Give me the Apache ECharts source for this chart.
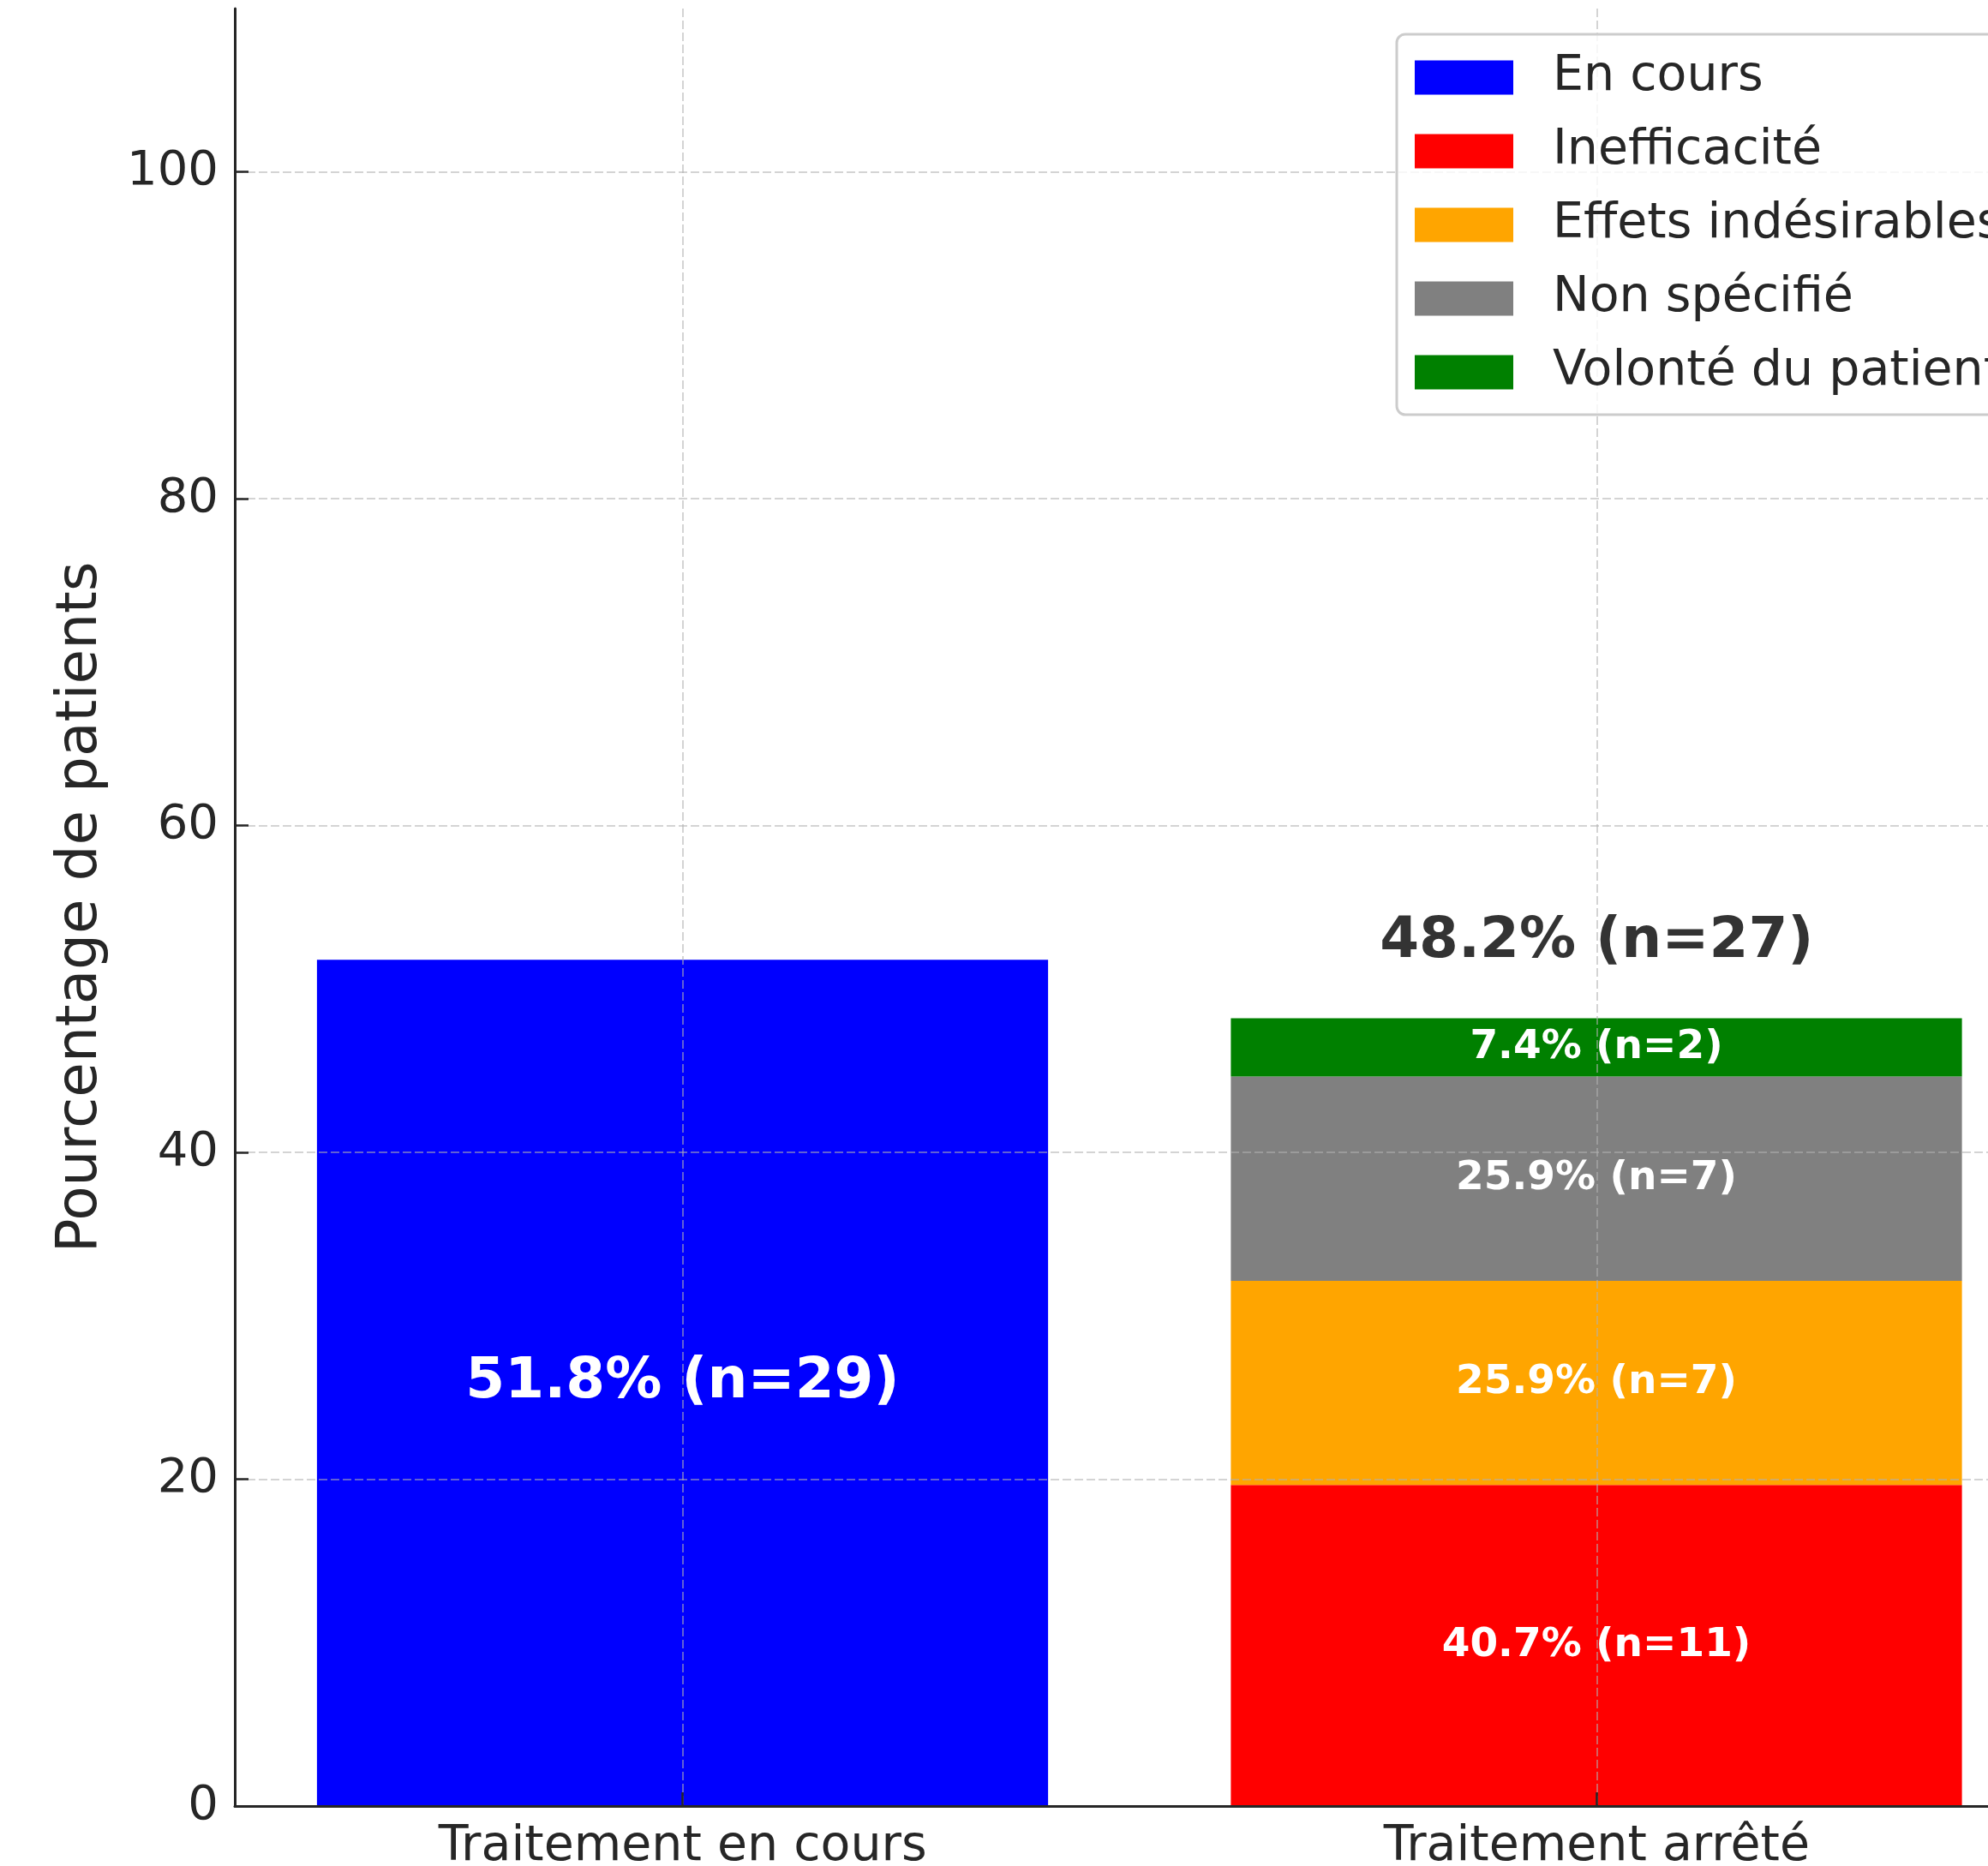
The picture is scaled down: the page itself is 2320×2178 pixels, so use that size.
<!DOCTYPE html>
<html>
<head>
<meta charset="utf-8">
<script src="https://cdn.jsdelivr.net/npm/echarts@6/dist/echarts.min.js"></script>
<style>
  html, body { margin: 0; padding: 0; background: #ffffff; }
  #chart { width: 2320px; height: 2178px; }
</style>
</head>
<body>
<div id="chart"></div>
<script>
// Patient counts
const categories = ['Traitement en cours', 'Traitement arrêté'];
const totalPatients = 56;
const ongoingName = 'En cours';
const ongoingCount = 29;
const stoppedCount = 27;
const reasonNames = ['Inefficacité', 'Effets indésirables', 'Non spécifié', 'Volonté du patient'];
const reasonCounts = [11, 7, 7, 2];
const yTicks = [0, 20, 40, 60, 80, 100];

// Styling
const ongoingColor = '#0000ff';
const reasonColors = ['#ff0000', '#ffa500', '#808080', '#008000'];
const FONT = 'DejaVu Sans';
const INK = '#262626';
const GRID_LINE = { color: 'rgba(176,176,176,0.55)', width: 2, type: [10, 4] };

const pct = (n, d) => n / d * 100;
const fmt = (n, d) => pct(n, d).toFixed(1) + '% (n=' + n + ')';

// Frame: grid 0 carries the visible axes, grid 1 carries the bars on a category band
// so that the stack is computed per category.
const TOP = 10, HEIGHT = 2098;

const series = [];

series.push({
  name: ongoingName,
  type: 'bar',
  xAxisIndex: 1,
  yAxisIndex: 1,
  stack: 'patients',
  barWidth: '80%',
  itemStyle: { color: ongoingColor },
  label: {
    show: true,
    position: 'inside',
    formatter: fmt(ongoingCount, totalPatients),
    color: '#ffffff',
    fontFamily: FONT,
    fontWeight: 'bold',
    fontSize: 66
  },
  data: [pct(ongoingCount, totalPatients), '-']
});

reasonNames.forEach(function (name, i) {
  series.push({
    name: name,
    type: 'bar',
    xAxisIndex: 1,
    yAxisIndex: 1,
    stack: 'patients',
    barWidth: '80%',
    itemStyle: { color: reasonColors[i] },
    label: {
      show: true,
      position: 'inside',
      formatter: fmt(reasonCounts[i], stoppedCount),
      color: '#ffffff',
      fontFamily: FONT,
      fontWeight: 'bold',
      fontSize: 47
    },
    data: ['-', pct(reasonCounts[i], totalPatients)]
  });
});

// Total of the stopped group, written above its stack
series.push({
  name: 'total',
  type: 'scatter',
  xAxisIndex: 0,
  yAxisIndex: 0,
  symbolSize: 0,
  silent: true,
  label: {
    show: true,
    position: 'top',
    distance: 56,
    formatter: fmt(stoppedCount, totalPatients),
    color: '#000000',
    fontFamily: FONT,
    fontWeight: 'bold',
    fontSize: 66
  },
  data: [[1, pct(stoppedCount, totalPatients)]]
});

const chart = echarts.init(document.getElementById('chart'), null, { renderer: 'canvas' });
chart.setOption({
  animation: false,
  backgroundColor: '#ffffff',
  textStyle: { fontFamily: FONT },
  grid: [
    { left: 274, top: TOP, width: 2112, height: HEIGHT, containLabel: false, outerBoundsMode: 'none' },
    { left: 263.25, top: TOP, width: 2133, height: HEIGHT, containLabel: false, outerBoundsMode: 'none' }
  ],
  legend: {
    data: [ongoingName].concat(reasonNames),
    orient: 'vertical',
    left: 1630,
    top: 40,
    padding: [22, 40, 21, 21],
    itemWidth: 115,
    itemHeight: 40,
    itemGap: 29,
    icon: 'rect',
    backgroundColor: 'rgba(255,255,255,0.8)',
    borderColor: '#cccccc',
    borderWidth: 3,
    borderRadius: 10,
    z: 10,
    textStyle: {
      fontFamily: FONT,
      fontSize: 57,
      color: INK,
      padding: [0, 0, 0, 41]
    }
  },
  xAxis: [
    {
      type: 'value',
      gridIndex: 0,
      min: -0.49,
      max: 1.49,
      z: 3,
      axisLine: { show: true, onZero: false, lineStyle: { color: INK, width: 3 } },
      axisTick: { show: true, inside: true, length: 16, customValues: [0, 1], lineStyle: { color: INK, width: 2.5 } },
      axisLabel: {
        customValues: [0, 1],
        formatter: function (v) { return categories[Math.round(v)]; },
        fontFamily: FONT,
        fontSize: 57,
        color: INK,
        margin: 20
      },
      splitLine: { show: true, lineStyle: GRID_LINE }
    },
    {
      type: 'category',
      gridIndex: 1,
      data: categories,
      show: false
    }
  ],
  yAxis: [
    {
      type: 'value',
      gridIndex: 0,
      min: 0,
      max: 110,
      z: 3,
      name: 'Pourcentage de patients',
      nameLocation: 'middle',
      nameGap: 146,
      nameTextStyle: { fontFamily: FONT, fontSize: 66, color: INK },
      axisLine: { show: true, onZero: false, lineStyle: { color: INK, width: 3 } },
      axisTick: { show: true, inside: true, length: 16, customValues: yTicks, lineStyle: { color: INK, width: 2.5 } },
      axisLabel: {
        customValues: yTicks,
        fontFamily: FONT,
        fontSize: 56,
        color: INK,
        margin: 19
      },
      splitLine: { show: true, lineStyle: GRID_LINE }
    },
    {
      type: 'value',
      gridIndex: 1,
      min: 0,
      max: 110,
      show: false
    }
  ],
  series: series
});
</script>
</body>
</html>
